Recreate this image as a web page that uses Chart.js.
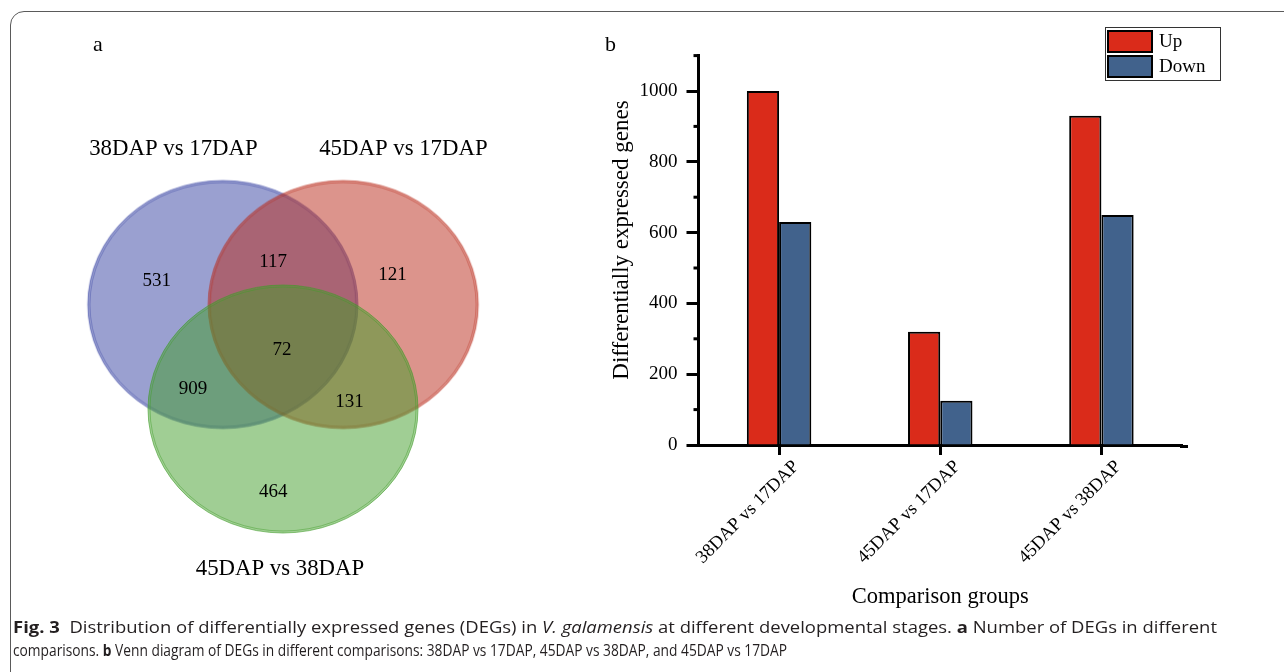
<!DOCTYPE html>
<html>
<head>
<meta charset="utf-8">
<script src="https://cdn.jsdelivr.net/npm/chart.js@4.4.1/dist/chart.umd.min.js"></script>
<style>
html, body { margin: 0; padding: 0; background: #fff; }
#page { position: relative; width: 1284px; height: 672px; overflow: hidden; font-family: 'Liberation Serif', serif; }
#frame { position: absolute; left: 10px; top: 11px; width: 1300px; height: 700px; border: 1.5px solid #5a5a5a; border-top-left-radius: 14px; box-sizing: border-box; }
.panel { position: absolute; font-size: 22px; line-height: 22px; color: #000; }
#vennCanvas { position: absolute; left: 0; top: 0; }
#barCanvas { position: absolute; left: 590px; top: 20px; }
.cap { position: absolute; left: 13px; white-space: nowrap; font-family: 'Open Sans', sans-serif; font-size: 16.5px; line-height: 23px; color: #231f20; transform-origin: 0 50%; }
</style>
</head>
<body>
<div id="page">
  <div id="frame"></div>
  <canvas id="vennCanvas" width="566" height="610"></canvas>
  <canvas id="barCanvas" width="694" height="600"></canvas>
  <div class="panel" style="left:93px; top:33px;">a</div>
  <div class="panel" style="left:605px; top:33px;">b</div>
  <div class="cap" data-w="1204" style="top:615px;"><b>Fig. 3</b>&nbsp; Distribution of differentially expressed genes (DEGs) in <i>V. galamensis</i> at different developmental stages. <b>a</b> Number of DEGs in different</div>
  <div class="cap" data-w="774" style="top:638px;">comparisons. <b>b</b> Venn diagram of DEGs in different comparisons: 38DAP vs 17DAP, 45DAP vs 38DAP, and 45DAP vs 17DAP</div>
</div>
<script>
/* ---------------------------------------------------------------- */
/* 資料 */
var vennSets = ['38DAP vs 17DAP', '45DAP vs 17DAP', '45DAP vs 38DAP'];
var vennRegions = ['38v17 only', '38v17 & 45v17', '45v17 only', 'all three', '38v17 & 45v38', '45v17 & 45v38', '45v38 only'];
var vennCounts = [531, 117, 121, 72, 909, 131, 464];

var groups = ['38DAP vs 17DAP', '45DAP vs 17DAP', '45DAP vs 38DAP'];
var upGenes = [1000, 320, 930];
var downGenes = [630, 125, 650];
var yMajorTicks = [0, 200, 400, 600, 800, 1000];

/* ---------------------------------------------------------------- */
/* Venn 版面 (單位座標) */
var vennUnit = 61.5;   // px per unit
var vennLayout = {
    origin: [283, 340],
    setCenters: [[-1, 0.577], [1, 0.577], [0, -1.155]],
    setLabels: [[-1.82, 3.154], [2.0, 3.154], [-0.05, -3.805]],
    countLabels: [[-2.098, 0.959], [-0.163, 1.285], [1.82, 1.073], [-0.016, -0.179], [-1.496, -0.83], [1.106, -1.04], [-0.163, -2.537]]
};
var vennColors = ['53,65,161', '185,41,25', '65,157,41'];
var ellipseR = [135, 124];

Chart.defaults.font.family = "'Liberation Serif', 'Times New Roman', serif";
Chart.defaults.color = '#000';

function ellipseStyle(rgb) {
    var c = document.createElement('canvas');
    c.width = ellipseR[0] * 2 + 6;
    c.height = ellipseR[1] * 2 + 6;
    var g = c.getContext('2d');
    g.beginPath();
    g.ellipse(c.width / 2, c.height / 2, ellipseR[0], ellipseR[1], 0, 0, Math.PI * 2);
    g.fillStyle = 'rgba(' + rgb + ',0.5)';
    g.fill();
    // 兩條細邊線
    g.lineWidth = 1;
    g.strokeStyle = 'rgba(' + rgb + ',0.6)';
    g.stroke();
    g.beginPath();
    g.ellipse(c.width / 2, c.height / 2, ellipseR[0] - 2, ellipseR[1] - 2, 0, 0, Math.PI * 2);
    g.strokeStyle = 'rgba(' + rgb + ',0.45)';
    g.stroke();
    return c;
}

/* 把文字畫在點的位置 */
var vennText = {
    id: 'vennText',
    afterDatasetsDraw(chart) {
        var ctx = chart.ctx;
        chart.data.datasets.forEach((ds, i) => {
            if (!ds.texts) return;
            var meta = chart.getDatasetMeta(i);
            ctx.save();
            ctx.font = ds.textFont;
            ctx.fillStyle = '#000';
            ctx.textAlign = 'center';
            ctx.textBaseline = 'middle';
            meta.data.forEach((pt, j) => ctx.fillText(ds.texts[j], pt.x, pt.y));
            ctx.restore();
        });
    }
};

var vennCanvas = document.getElementById('vennCanvas');
var toPt = p => ({ x: p[0], y: p[1] });
new Chart(vennCanvas, {
    type: 'scatter',
    data: {
        datasets: vennSets.map((name, i) => ({
            label: name,
            data: [toPt(vennLayout.setCenters[i])],
            pointStyle: ellipseStyle(vennColors[i]),
            pointRadius: 5,
            order: 3 - i,
            clip: false
        })).concat([
            { label: 'counts', data: vennLayout.countLabels.map(toPt), texts: vennCounts, pointRadius: 0, textFont: '19px "Liberation Serif"', order: -1 },
            { label: 'names', data: vennLayout.setLabels.map(toPt), texts: vennSets, pointRadius: 0, textFont: '22.8px "Liberation Serif"', order: -2 }
        ])
    },
    options: {
        responsive: false,
        animation: false,
        events: [],
        layout: { padding: 0 },
        plugins: { legend: { display: false }, tooltip: { enabled: false } },
        scales: {
            x: { type: 'linear', display: false, min: -vennLayout.origin[0] / vennUnit, max: (vennCanvas.width - vennLayout.origin[0]) / vennUnit },
            y: { type: 'linear', display: false, min: (vennLayout.origin[1] - vennCanvas.height) / vennUnit, max: vennLayout.origin[1] / vennUnit }
        }
    },
    plugins: [vennText]
});

/* ---------------------------------------------------------------- */
/* 長條圖 */
var axisExtras = {
    id: 'axisExtras',
    afterDraw(chart) {
        var y = chart.scales.y, ctx = chart.ctx, area = chart.chartArea;
        ctx.save();
        ctx.strokeStyle = '#000';
        ctx.lineWidth = 3;
        // 次刻度
        y.ticks.forEach(t => {
            if (yMajorTicks.includes(t.value)) return;
            var py = y.getPixelForValue(t.value);
            ctx.beginPath();
            ctx.moveTo(area.left - 5, py);
            ctx.lineTo(area.left, py);
            ctx.stroke();
        });
        // x 軸往右延伸一點
        var by = chart.scales.x.top + 1.5;
        ctx.beginPath();
        ctx.moveTo(area.right - 2, by);
        ctx.lineTo(area.right + 6, by);
        ctx.stroke();
        // y 軸標題
        ctx.fillStyle = '#000';
        ctx.font = '23px "Liberation Serif"';
        ctx.textAlign = 'center';
        ctx.textBaseline = 'middle';
        ctx.translate(32, 220);
        ctx.rotate(-Math.PI / 2);
        ctx.fillText(yTitle, 0, 0);
        ctx.restore();
    }
};
var yTitle = 'Differentially expressed genes';

var boxLegend = {
    id: 'boxLegend',
    afterDraw(chart) {
        var ctx = chart.ctx;
        var x0 = 515, y0 = 7;
        ctx.save();
        ctx.strokeStyle = '#333';
        ctx.lineWidth = 1;
        ctx.strokeRect(x0 + 0.5, y0 + 0.5, 115, 53);
        chart.data.datasets.forEach((ds, i) => {
            var sy = y0 + 3 + i * 25;
            ctx.fillStyle = ds.backgroundColor;
            ctx.fillRect(x0 + 2, sy, 46, 23);
            ctx.lineWidth = 2;
            ctx.strokeStyle = '#000';
            ctx.strokeRect(x0 + 3, sy + 1, 44, 21);
            ctx.fillStyle = '#000';
            ctx.font = '19px "Liberation Serif"';
            ctx.textBaseline = 'middle';
            ctx.fillText(ds.label, x0 + 54, sy + 12);
        });
        ctx.restore();
    }
};

new Chart(document.getElementById('barCanvas'), {
    type: 'bar',
    data: {
        labels: groups,
        datasets: [
            { label: 'Up', data: upGenes, backgroundColor: '#da2b1a', borderColor: '#000', borderWidth: 2 },
            { label: 'Down', data: downGenes, backgroundColor: '#41628c', borderColor: '#000', borderWidth: 2 }
        ]
    },
    options: {
        responsive: false,
        animation: false,
        events: [],
        layout: { padding: { left: 0, top: 35.6, right: 102, bottom: 0 } },
        datasets: { bar: { categoryPercentage: 0.4, barPercentage: 1 } },
        plugins: { legend: { display: false }, tooltip: { enabled: false } },
        scales: {
            x: {
                grid: { drawOnChartArea: false, offset: false, tickLength: 10, tickWidth: 3, tickColor: '#000' },
                border: { display: true, width: 3, color: '#000' },
                ticks: { minRotation: 45, maxRotation: 45, autoSkip: false, labelOffset: 17, padding: 1, font: { size: 18.5 }, color: '#000' },
                title: { display: true, text: 'Comparison groups', font: { size: 22.5 }, color: '#000', padding: 9 },
                afterFit(s) { s.height = 175; }
            },
            y: {
                min: 0,
                max: 1100,
                grid: { drawOnChartArea: false, tickLength: 12, tickWidth: 3, tickColor: c => yMajorTicks.includes(c.tick.value) ? '#000' : 'rgba(0,0,0,0)' },
                border: { display: true, width: 3, color: '#000' },
                ticks: { stepSize: 100, autoSkip: false, padding: 9, font: { size: 19 }, color: '#000', callback: v => yMajorTicks.includes(v) ? v : '' },
                afterFit(s) { s.width = 108.5; }
            }
        }
    },
    plugins: [axisExtras, boxLegend]
});

/* 圖說寬度對齊 */
document.querySelectorAll('.cap').forEach(el => {
    var w = el.getBoundingClientRect().width;
    el.style.transform = 'scaleX(' + (parseFloat(el.dataset.w) / w) + ')';
});
</script>
</body>
</html>
